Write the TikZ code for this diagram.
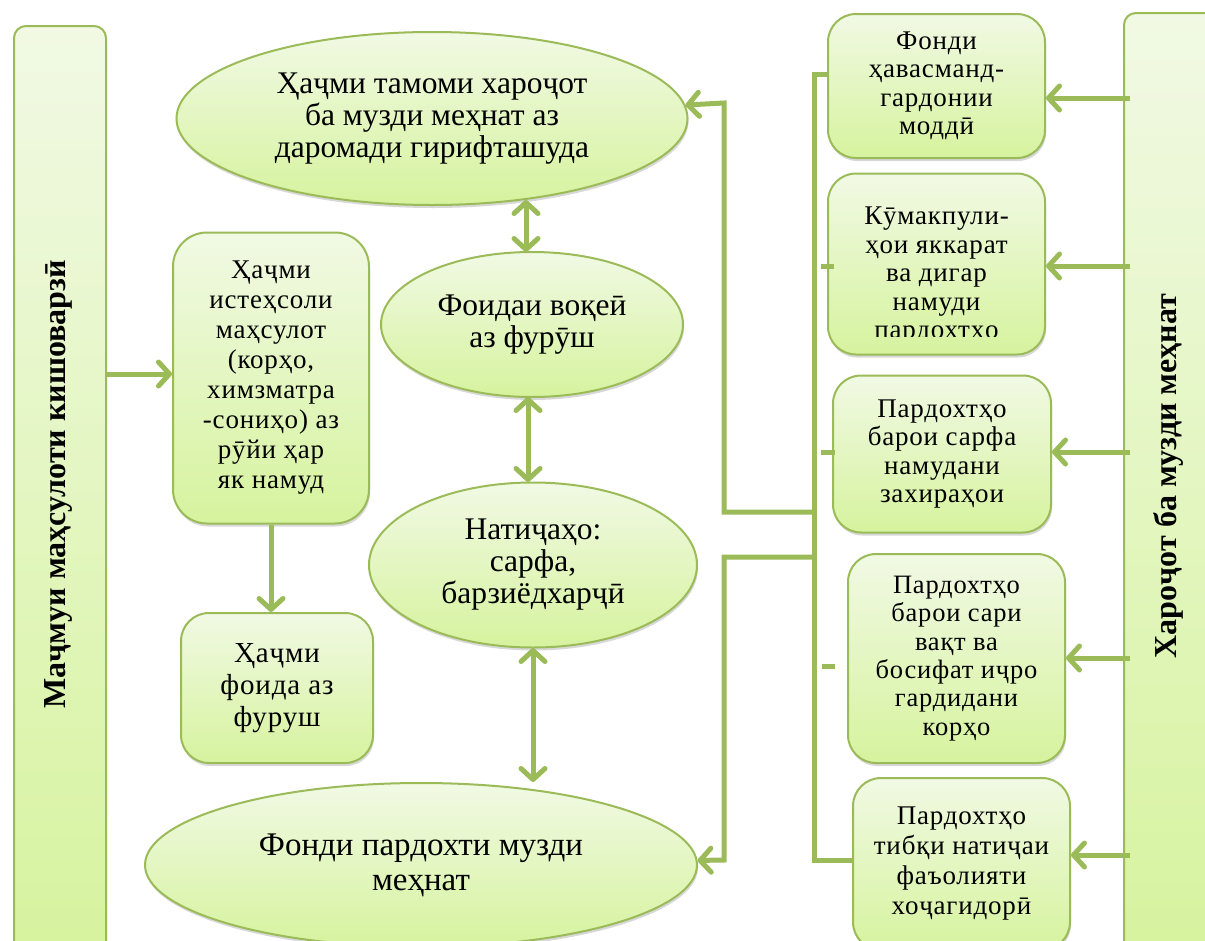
\documentclass[tikz,border=0pt]{standalone}
\usepackage{fontspec}
\setmainfont{Liberation Serif}
\newfontfamily\wfont[LetterSpace=3]{Liberation Serif}
\usetikzlibrary{shapes.geometric,arrows.meta,shadows}
\definecolor{gline}{RGB}{155,187,89}
\definecolor{gtop}{RGB}{241,249,228}
\definecolor{gbot}{RGB}{214,243,158}
\tikzset{
  gfill/.style={top color=gtop, bottom color=gbot, draw=gline, line width=2pt,
    drop shadow={shadow xshift=1pt, shadow yshift=-3pt, opacity=0.25, fill=black!60}},
  ell/.style={gfill, ellipse, inner sep=0pt, align=center, font=\fontsize{31.5}{32}\selectfont},
  rbox/.style={gfill, rectangle, rounded corners=28pt, inner sep=0pt, align=center,
    font=\wfont\fontsize{27}{28.5}\selectfont},
  rtext/.style={inner sep=0pt, align=center, font=\wfont\fontsize{27}{28.5}\selectfont},
  bar/.style={gfill, rectangle, rounded corners=12pt, inner sep=0pt},
  bartext/.style={rotate=90, font=\bfseries\fontsize{32}{34}\selectfont},
  conn/.style={draw=gline, line width=5pt},
  arr/.style={conn, -{Straight Barb[length=11pt,width=24pt,round]}},
  dbl/.style={conn, {Straight Barb[length=11pt,width=24pt,round]}-{Straight Barb[length=11pt,width=24pt,round]}}
}
\begin{document}
\begin{tikzpicture}[x=1pt,y=-1pt]
\useasboundingbox (0,0) rectangle (1205,940);
\clip (0,0) rectangle (1205,940);
\fill[white] (0,0) rectangle (1205,940);

% side bars
\node[bar, minimum width=92pt, minimum height=935pt, anchor=north west] (lbar) at (13,25) {};
\node[bartext] (ltext) at (58,484) {Маҷмуи маҳсулоти кишоварзӣ};
\node[bar, minimum width=117pt, minimum height=948pt, anchor=north west] (rbar) at (1123,12) {};
\node[bartext] (rtext) at (1168,476) {Хароҷот ба музди меҳнат};

% ellipses
\node[ell, minimum width=511pt, minimum height=173pt] (e1) at (432,118.5)
  {Ҳаҷми тамоми хароҷот\\ба музди меҳнат аз\\даромади гирифташуда};
\node[ell, minimum width=302pt, minimum height=145pt] (e2) at (532,324.5)
  {Фоидаи воқеӣ\\аз фурӯш};
\node[ell, minimum width=328pt, minimum height=165pt] (e3) at (533,565)
  {Натиҷаҳо:\\сарфа,\\барзиёдхарҷӣ};
\node[ell, minimum width=552pt, minimum height=164pt, font=\fontsize{33}{35}\selectfont] (e4) at (421,865)
  {Фонди пардохти музди\\меҳнат};

% left boxes
\node[rbox, rounded corners=34pt, minimum width=196pt, minimum height=291pt, font=\wfont\fontsize{27}{30}\selectfont] (ba) at (271,378)
  {Ҳаҷми\\истеҳсоли\\маҳсулот\\(корҳо,\\химзматра\\-сониҳо) аз\\рӯйи ҳар\\як намуд};
\node[rbox, minimum width=192pt, minimum height=150pt, font=\wfont\fontsize{29}{32}\selectfont] (bb) at (277,688)
  {Ҳаҷми\\фоида аз\\фуруш};

% right boxes
\node[rbox, minimum width=217pt, minimum height=144pt] (r1) at (936.5,86)
  {Фонди\\ҳавасманд-\\гардонии\\моддӣ};
\node[rbox, minimum width=217pt, minimum height=181pt] (r2) at (936.5,264) {};
\begin{scope}
  \clip (828,170) rectangle (1045,336);
  \node[rtext] (r2t) at (936.5,276)
    {Кӯмакпули-\\ҳои яккарат\\ва дигар\\намуди\\пардохтҳо};
\end{scope}
\node[rbox, minimum width=218pt, minimum height=157pt] (r3) at (942,454)
  {Пардохтҳо\\барои сарфа\\намудани\\захираҳои};
\node[rbox, minimum width=217pt, minimum height=209pt, font=\wfont\fontsize{26.5}{28.3}\selectfont] (r4) at (956.5,658.5)
  {Пардохтҳо\\барои сари\\вақт ва\\босифат иҷро\\гардидани\\корҳо};
\node[rbox, minimum width=217pt, minimum height=172pt, font=\wfont\fontsize{27}{30}\selectfont] (r5) at (961.5,864)
  {Пардохтҳо\\тибқи натиҷаи\\фаъолияти\\хоҷагидорӣ};

% left connectors
\draw[arr] (lbar.east |- 0,374) -- (ba.west |- 0,374);
\draw[arr] (ba.south) -- (ba.south |- bb.north);

% double arrows between ellipses
\coordinate (d1a) at (526,200);
\coordinate (d1b) at (526,252);
\coordinate (d2a) at (528,397);
\coordinate (d2b) at (528,482);
\coordinate (d3a) at (533,648);
\coordinate (d3b) at (533,782);
\draw[dbl] (d1a) -- (d1b);
\draw[dbl] (d2a) -- (d2b);
\draw[dbl] (d3a) -- (d3b);

% arrows from right bar
\coordinate (a1) at (1130,98);
\coordinate (a2) at (1130,266);
\coordinate (a3) at (1130,452);
\coordinate (a4) at (1130,658);
\coordinate (a5) at (1130,855);
\draw[arr] (a1) -- (r1.east |- a1);
\draw[arr] (a2) -- (r2.east |- a2);
\draw[arr] (a3) -- (r3.east |- a3);
\draw[arr] (a4) -- (r4.east |- a4);
\draw[arr] (a5) -- (r5.east |- a5);

% trunk
\coordinate (t1) at (814,74);
\coordinate (t2) at (814,860);
\coordinate (j1) at (814,512);
\coordinate (k1) at (724,512);
\coordinate (m1) at (724,103);
\coordinate (j2) at (814,557);
\coordinate (k2) at (724,557);
\coordinate (m2) at (724,860);
\draw[conn] (r1.west |- t1) -- (t1) -- (t2) -- (r5.west |- t2);
\draw[conn] (821,266) -- (834,266);
\draw[conn] (821,452) -- (835,452);
\draw[conn] (822,666) -- (835,666);
\draw[arr] (j1) -- (k1) -- (m1) -- (e1);
\draw[arr] (j2) -- (k2) -- (m2) -- (e4);
\end{tikzpicture}
\end{document}
